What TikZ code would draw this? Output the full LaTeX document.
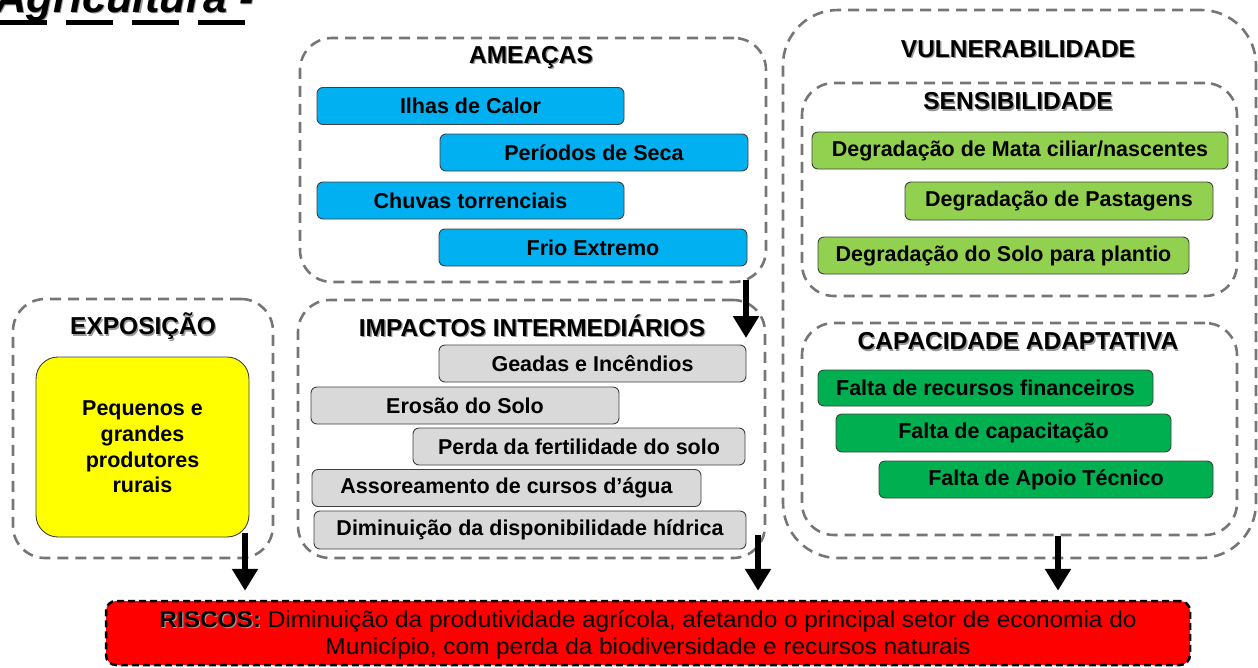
\documentclass[tikz,border=0pt]{standalone}
\usepackage{fontspec}
\setmainfont{Liberation Sans}
\newfontfamily\riskfont[FakeStretch=1.06]{Liberation Sans}
\usetikzlibrary{arrows.meta}
\definecolor{bluebox}{HTML}{00B0F0}
\definecolor{graybox}{HTML}{D9D9D9}
\definecolor{lgreen}{HTML}{92D050}
\definecolor{dgreen}{HTML}{00B050}
\definecolor{yelbox}{HTML}{FFFF00}
\definecolor{redbox}{HTML}{FF0000}
\definecolor{dashgray}{HTML}{767676}
\newcommand\shd[1]{\leavevmode\rlap{\kern1.3pt\raisebox{-1.3pt}{\textcolor{black!40}{#1}}}#1}
\tikzset{
  grp/.style={draw=dashgray, line width=2.6pt, dash pattern=on 11pt off 7pt, rounded corners=32pt, inner sep=0pt},
  ttl/.style={font=\bfseries\fontsize{24.5}{28}\selectfont, inner sep=0pt},
  itembox/.style={draw=black!75, line width=0.9pt, rounded corners=6pt, inner sep=0pt,
    font=\bfseries\fontsize{21.5}{25}\selectfont, minimum height=37pt},
  arr/.style={line width=5.5pt, -{Triangle[width=25pt,length=22pt]}},
}
\begin{document}
\begin{tikzpicture}[x=1pt,y=-1pt]
\useasboundingbox (0,0) rectangle (1258,667);
% header
\node[anchor=base west, inner sep=0pt, font=\bfseries\itshape\fontsize{43.5}{48}\selectfont] (hdr) at (-5,12) {\shd{Agricultura -}};
\coordinate (u0) at (0,22);
\coordinate (u1) at (250,22);
\draw[line width=5pt, dash pattern=on 47pt off 19pt] (u0) -- (u1);

% group frames
\node[grp, minimum width=466pt, minimum height=244pt] (ame) at (533,160) {};
\node[grp, minimum width=467pt, minimum height=258pt] (imp) at (531.5,429) {};
\node[grp, minimum width=260pt, minimum height=259pt] (exp) at (143,428.5) {};
\node[grp, rounded corners=55pt, minimum width=473pt, minimum height=548pt] (vul) at (1019.5,284) {};
\node[grp, minimum width=435pt, minimum height=213pt] (sen) at (1019.5,189.5) {};
\node[grp, minimum width=435pt, minimum height=212pt] (cad) at (1019.5,429) {};

% titles
\node[ttl] (tame) at (531,58) {\shd{AMEAÇAS}};
\node[ttl] (timp) at (532,326) {\shd{IMPACTOS INTERMEDIÁRIOS}};
\node[ttl] (texp) at (143,327) {\shd{EXPOSIÇÃO}};
\node[ttl] (tvul) at (1018,50) {\shd{VULNERABILIDADE}};
\node[ttl] (tsen) at (1018,102) {\shd{SENSIBILIDADE}};
\node[ttl] (tcad) at (1018,342) {\shd{CAPACIDADE ADAPTATIVA}};

% threats
\node[itembox, fill=bluebox, minimum width=307pt] (ilhas) at (470.5,106) {Ilhas de Calor};
\node[itembox, fill=bluebox, minimum width=308pt] (seca) at (594,152.5) {Períodos de Seca};
\node[itembox, fill=bluebox, minimum width=307pt] (chuva) at (470.5,200.5) {Chuvas torrenciais};
\node[itembox, fill=bluebox, minimum width=308pt] (frio) at (593,247.5) {Frio Extremo};

% intermediate impacts
\node[itembox, fill=graybox, minimum width=307pt] (geada) at (592.5,363.5) {Geadas e Incêndios};
\node[itembox, fill=graybox, minimum width=308pt] (eros) at (465,405.5) {Erosão do Solo};
\node[itembox, fill=graybox, minimum width=332pt] (perda) at (579,446.5) {Perda da fertilidade do solo};
\node[itembox, fill=graybox, minimum width=389pt] (assor) at (506.5,488) {Assoreamento de cursos d’água};
\node[itembox, fill=graybox, minimum width=432pt, minimum height=38pt] (dimin) at (530,530) {Diminuição da disponibilidade hídrica};

% sensitivity
\node[itembox, fill=lgreen, minimum width=416pt] (mata) at (1020,150.5) {Degradação de Mata ciliar/nascentes};
\node[itembox, fill=lgreen, minimum width=308pt, minimum height=38pt] (past) at (1059,201) {Degradação de Pastagens};
\node[itembox, fill=lgreen, minimum width=371pt] (solo) at (1003.5,255.5) {Degradação do Solo para plantio};

% adaptive capacity
\node[itembox, fill=dgreen, minimum width=335pt, minimum height=36pt] (rec) at (985.5,388) {Falta de recursos financeiros};
\node[itembox, fill=dgreen, minimum width=335pt, minimum height=38pt] (capa) at (1003.5,433) {Falta de capacitação};
\node[itembox, fill=dgreen, minimum width=334pt] (apoio) at (1046,479.5) {Falta de Apoio Técnico};

% exposure
\node[draw=black!75, line width=0.9pt, fill=yelbox, rounded corners=22pt, minimum width=213pt, minimum height=180pt,
  align=center, font=\bfseries\fontsize{21.5}{25.7}\selectfont] (prod) at (142.5,447) {Pequenos e\\grandes\\produtores\\rurais};

% risks
\node[draw=black, line width=2.5pt, dash pattern=on 7pt off 4pt, fill=redbox, rounded corners=10pt,
  minimum width=1084pt, minimum height=64pt, inner sep=0pt] (risc) at (648,633) {};
\node[align=center, inner sep=0pt, font=\riskfont\fontsize{23}{27.5}\selectfont] (risct) at (648,635)
  {\shd{\textbf{RISCOS:}} Diminuição da produtividade agrícola, afetando o principal setor de economia do\\Município, com perda da biodiversidade e recursos naturais};

% arrows
\coordinate (a0) at (746,280);
\coordinate (a1) at (746,338);
\draw[arr] (a0) -- (a1);
\coordinate (e0) at (245,533);
\coordinate (i0) at (758,535);
\coordinate (v0) at (1058,536);
\draw[arr, shorten >=9pt] (e0) -- (risc.north -| e0);
\draw[arr, shorten >=9pt] (i0) -- (risc.north -| i0);
\draw[arr, shorten >=9pt] (v0) -- (risc.north -| v0);
\end{tikzpicture}
\end{document}
